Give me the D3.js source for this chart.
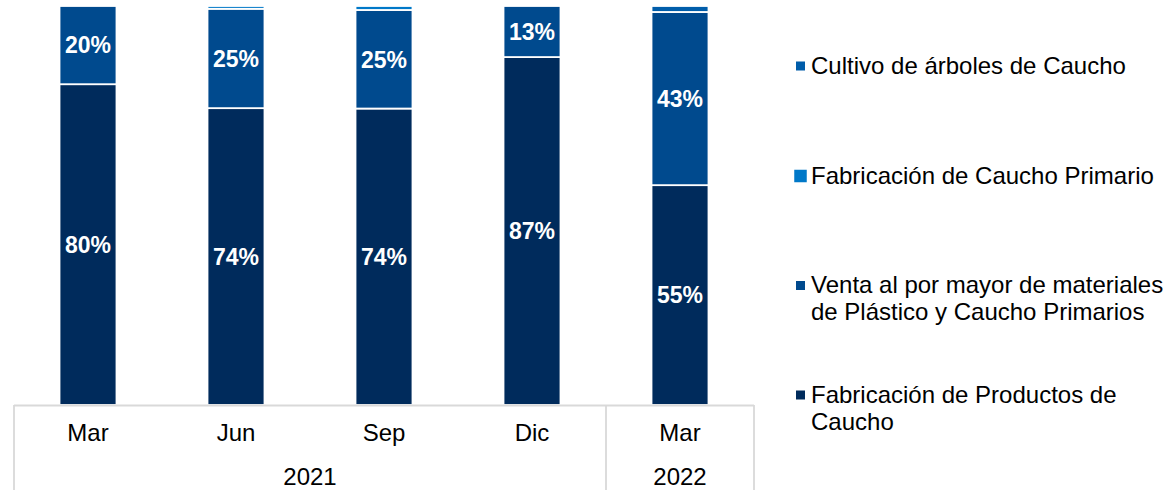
<!DOCTYPE html>
<html>
<head>
<meta charset="utf-8">
<script src="https://cdn.jsdelivr.net/npm/d3@7"></script>
<style>
  html, body { margin: 0; padding: 0; background: #fff; }
  svg { display: block; }
  text { font-family: "Liberation Sans", Arial, sans-serif; }
</style>
</head>
<body>
<svg id="chart" width="1167" height="490"></svg>
<script>
// ---- Data ----
const months = ["Mar", "Jun", "Sep", "Dic", "Mar"];
const years = ["2021", "2021", "2021", "2021", "2022"];
const productos = [80.4, 74.4, 74.3, 87.2, 55.1];
const venta     = [19.6, 24.9, 24.7, 12.8, 43.4];
const primario  = [0,    0.7,  1.0,  0,    0];
const cultivo   = [0,    0,    0,    0,    1.5];
const seriesNames = [
  "Fabricación de Productos de Caucho",
  "Venta al por mayor de materiales de Plástico y Caucho Primarios",
  "Fabricación de Caucho Primario",
  "Cultivo de árboles de Caucho"
];
const legendLines = [
  ["Fabricación de Productos de", "Caucho"],
  ["Venta al por mayor de materiales", "de Plástico y Caucho Primarios"],
  ["Fabricación de Caucho Primario"],
  ["Cultivo de árboles de Caucho"]
];
const colors = ["#002B5C", "#004A8E", "#0078C8", "#005DAA"];

// ---- Build table ----
const keys = ["productos", "venta", "primario", "cultivo"];
const seriesVals = [productos, venta, primario, cultivo];
const table = months.map((m, i) => {
  const row = { id: i, month: m, year: years[i] };
  keys.forEach((k, j) => row[k] = seriesVals[j][i]);
  return row;
});

const svg = d3.select("#chart");

const x = d3.scaleBand().domain(table.map(d => d.id)).range([14, 754]).padding(0);
const barW = x.bandwidth() * 0.385;
const y = d3.scaleLinear().domain([0, 100]).range([405, 6]);

const stack = d3.stack().keys(keys);
const stacked = stack(table);

const g = svg.append("g");
stacked.forEach((layer, li) => {
  g.append("g").selectAll("rect")
    .data(layer.filter(d => d[1] - d[0] > 0))
    .join("rect")
    .attr("x", d => x(d.data.id) + (x.bandwidth() - barW) / 2)
    .attr("width", barW)
    .attr("y", d => y(d[1]))
    .attr("height", d => y(d[0]) - y(d[1]))
    .attr("fill", colors[li])
    .attr("stroke", "#fff")
    .attr("stroke-width", 1.8);
});

// labels
stacked.forEach((layer) => {
  g.append("g").selectAll("text")
    .data(layer.filter(d => d[1] - d[0] >= 5))
    .join("text")
    .attr("x", d => x(d.data.id) + x.bandwidth() / 2)
    .attr("y", d => (y(d[0]) + y(d[1])) / 2)
    .attr("dy", "0.36em")
    .attr("text-anchor", "middle")
    .attr("fill", "#fff")
    .attr("font-weight", "bold")
    .attr("font-size", "23px")
    .text(d => Math.round(d[1] - d[0]) + "%");
});

// ---- Axis (multi-level) ----
const axisColor = "#d9d9d9";
const y0 = y(0);
const axisG = svg.append("g").attr("transform", `translate(0,${y0 + 0.5})`);
axisG.call(d3.axisBottom(x).tickSize(0).tickPadding(0).tickFormat(i => months[i]));
axisG.select(".domain").attr("stroke", axisColor).attr("stroke-width", 1.8)
  .attr("d", `M${x.range()[0]},0H${x.range()[1]}`);
axisG.selectAll(".tick text")
  .attr("y", 35)
  .attr("dy", 0)
  .attr("font-size", "24px")
  .attr("fill", "#000")
  .style("font-family", '"Liberation Sans", Arial, sans-serif');

// year groups
const yearGroups = d3.groups(table, d => d.year).map(([yr, rows]) => ({
  year: yr,
  x0: x(rows[0].id),
  x1: x(rows[rows.length - 1].id) + x.bandwidth()
}));
const boundaries = [yearGroups[0].x0].concat(yearGroups.map(d => d.x1));
svg.append("g").selectAll("line")
  .data(boundaries)
  .join("line")
  .attr("x1", d => d).attr("x2", d => d)
  .attr("y1", y0).attr("y2", 490)
  .attr("stroke", axisColor).attr("stroke-width", 1.8);
svg.append("g").selectAll("text")
  .data(yearGroups)
  .join("text")
  .attr("x", d => (d.x0 + d.x1) / 2)
  .attr("y", 485)
  .attr("text-anchor", "middle")
  .attr("font-size", "24px")
  .attr("fill", "#000")
  .text(d => d.year);

// ---- Legend ----
const legendBaselines = [402.5, 293, 183.5, 73.5];
const markerSizes = [9, 9, 12.5, 9];
const leg = svg.append("g");
legendLines.forEach((lines, i) => {
  const bl = legendBaselines[i];
  const s = markerSizes[i];
  leg.append("rect")
    .attr("x", 800.5 - s / 2)
    .attr("y", bl - 7.5 - s / 2)
    .attr("width", s).attr("height", s)
    .attr("fill", colors[i]);
  lines.forEach((t, k) => {
    leg.append("text")
      .attr("x", 811)
      .attr("y", bl + k * 27)
      .attr("font-size", "24px")
      .attr("fill", "#000")
      .text(t);
  });
});
</script>
</body>
</html>
